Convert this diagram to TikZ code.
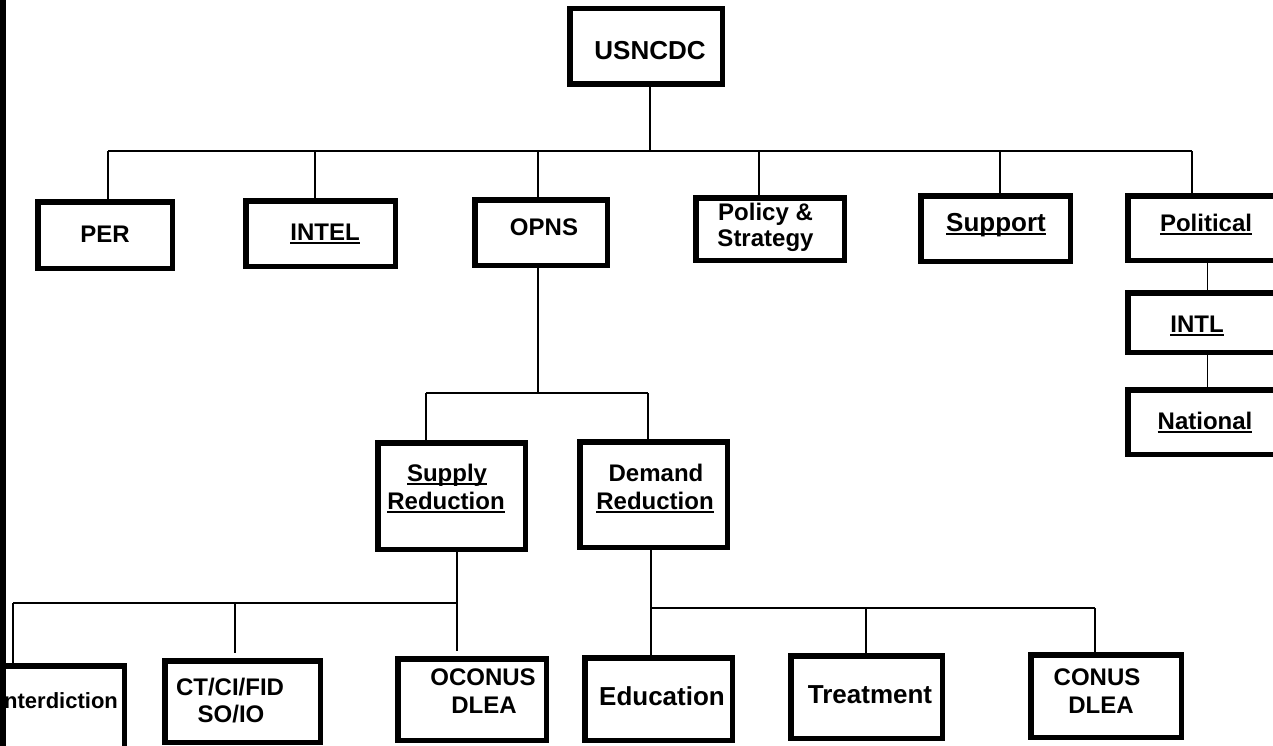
\documentclass[tikz,border=0pt]{standalone}
\usepackage{fontspec}
\setmainfont{Liberation Sans}
\usetikzlibrary{calc}
\newcommand{\ulx}[1]{\setbox0\hbox{#1}\rlap{\rule[-3.5pt]{\wd0}{1.8pt}}\box0}
\tikzset{
  orgbox/.style={draw=black, line width=5.5pt, fill=none, inner sep=0pt, outer sep=0pt},
  conn/.style={draw=black, line width=1.8pt},
  txt/.style={anchor=base, inner sep=0pt, font=\bfseries\fontsize{24}{28}\selectfont},
  bigtxt/.style={txt, font=\bfseries\fontsize{26}{30}\selectfont},
  smalltxt/.style={txt, font=\bfseries\fontsize{22}{26}\selectfont}
}
\begin{document}
\begin{tikzpicture}[x=1pt, y=-1pt]
\useasboundingbox (0,0) rectangle (1273,746);
\fill[white] (0,0) rectangle (1273,746);
\clip (0,0) rectangle (1273,746);

% boxes (outer edge minus half line width)
\node[orgbox, minimum width=152.5pt, minimum height=75.5pt] (usn) at (646,46.5) {};
\node[orgbox, minimum width=134.5pt, minimum height=66.5pt] (per) at (105,235) {};
\node[orgbox, minimum width=149.5pt, minimum height=65.5pt] (intel) at (320.5,233.5) {};
\node[orgbox, minimum width=132.5pt, minimum height=65.5pt] (opns) at (541,232.5) {};
\node[orgbox, minimum width=148.5pt, minimum height=62.5pt] (pol) at (770,229) {};
\node[orgbox, minimum width=149.5pt, minimum height=65.5pt] (sup) at (995.5,228.5) {};
\node[orgbox, minimum width=159.5pt, minimum height=64.5pt] (polit) at (1207.5,228) {};
\node[orgbox, minimum width=159.5pt, minimum height=59.5pt] (intl) at (1207.5,322.5) {};
\node[orgbox, minimum width=159.5pt, minimum height=64.5pt] (natl) at (1207.5,422) {};
\node[orgbox, minimum width=147.5pt, minimum height=106.5pt] (supply) at (451.5,496) {};
\node[orgbox, minimum width=147.5pt, minimum height=105.5pt] (demand) at (653.5,494.5) {};
\node[orgbox, minimum width=131.5pt, minimum height=91.5pt] (inter) at (58.5,711.5) {};
\node[orgbox, minimum width=155.5pt, minimum height=81.5pt] (ct) at (242.5,701.5) {};
\node[orgbox, minimum width=148.5pt, minimum height=81.5pt] (ocon) at (472,699.5) {};
\node[orgbox, minimum width=147.5pt, minimum height=82.5pt] (edu) at (658.5,699) {};
\node[orgbox, minimum width=151.5pt, minimum height=82.5pt] (treat) at (866.5,697) {};
\node[orgbox, minimum width=150.5pt, minimum height=82.5pt] (conus) at (1106,696) {};

% texts
\node[bigtxt] (tusn) at (650,60) {USNCDC};
\node[txt] (tper) at (105,242) {PER};
\node[txt] (tintel) at (325,240) {\ulx{INTEL}};
\node[txt] (topns) at (544,235) {OPNS};
\node[txt] (tpol1) at (765.5,220) {Policy \&};
\node[txt] (tpol2) at (765.5,246) {Strategy};
\node[bigtxt] (tsup) at (996,231) {\ulx{Support}};
\node[txt] (tpolit) at (1206,231) {\ulx{Political}};
\node[txt] (tintl) at (1197,332) {\ulx{INTL}};
\node[txt] (tnatl) at (1205,429) {\ulx{National}};
\node[txt] (tsupply1) at (447,481) {\ulx{Supply}};
\node[txt] (tsupply2) at (446,509) {\ulx{Reduction}};
\node[txt] (tdem1) at (656,481) {Demand};
\node[txt] (tdem2) at (655,509) {\ulx{Reduction}};
\node[smalltxt] (tinter) at (58,708) {Interdiction};
\node[txt] (tct1) at (230,695) {CT/CI/FID};
\node[txt] (tct2) at (231,722) {SO/IO};
\node[txt] (toc1) at (483,685) {OCONUS};
\node[txt] (toc2) at (484,713) {DLEA};
\node[bigtxt] (tedu) at (662,705) {Education};
\node[bigtxt] (ttreat) at (870,703) {Treatment};
\node[txt] (tco1) at (1097,685) {CONUS};
\node[txt] (tco2) at (1101,713) {DLEA};

% top level connectors
\coordinate (t1) at (108,151);
\coordinate (t2) at (1192,151);
\coordinate (u1) at ($(usn.south)+(4,0)$);
\draw[conn] (u1) -- (u1 |- t1);
\draw[conn] (t1) -- (t2);
\coordinate (dper) at ($(per.north)+(3,0)$);
\coordinate (dintel) at ($(intel.north)+(-5.5,0)$);
\coordinate (dopns) at ($(opns.north)+(-3,0)$);
\coordinate (dpol) at ($(pol.north)+(-11,0)$);
\coordinate (dsup) at ($(sup.north)+(4.5,0)$);
\coordinate (dpolit) at ($(polit.north)+(-15.5,0)$);
\foreach \d in {dper,dintel,dopns,dpol,dsup,dpolit}
  \draw[conn] (\d) -- (\d |- t1);
\draw[conn] (polit.south) -- (intl.north);
\draw[conn] (intl.south) -- (natl.north);

% OPNS branch
\coordinate (o1) at ($(opns.south)+(-3,0)$);
\coordinate (b2l) at (426,393);
\coordinate (b2r) at (648,393);
\draw[conn] (o1) -- (o1 |- b2l);
\draw[conn] (b2l) -- (b2r);
\draw[conn] (b2l) -- (b2l |- supply.north);
\draw[conn] (b2r) -- (b2r |- demand.north);

% Supply branch
\coordinate (s1) at ($(supply.south)+(5.5,0)$);
\coordinate (b3l) at (13,603);
\coordinate (c1) at (235,603);
\draw[conn] (s1) -- ($(ocon.north -| s1)+(0,-8)$);
\draw[conn] (b3l) -- (b3l -| s1);
\draw[conn] (b3l) -- (b3l |- inter.north);
\draw[conn] (c1) -- ($(ct.north -| c1)+(0,-8)$);

% Demand branch
\coordinate (d1) at ($(demand.south)+(-2.5,0)$);
\coordinate (b4r) at (1095,608);
\coordinate (tr1) at (866,608);
\draw[conn] (d1) -- (d1 |- edu.north);
\draw[conn] (d1 |- b4r) -- (b4r);
\draw[conn] (b4r) -- (b4r |- conus.north);
\draw[conn] (tr1) -- (tr1 |- treat.north);

% left edge bar
\fill[black] (0,0) rectangle (6,746);
\end{tikzpicture}
\end{document}
